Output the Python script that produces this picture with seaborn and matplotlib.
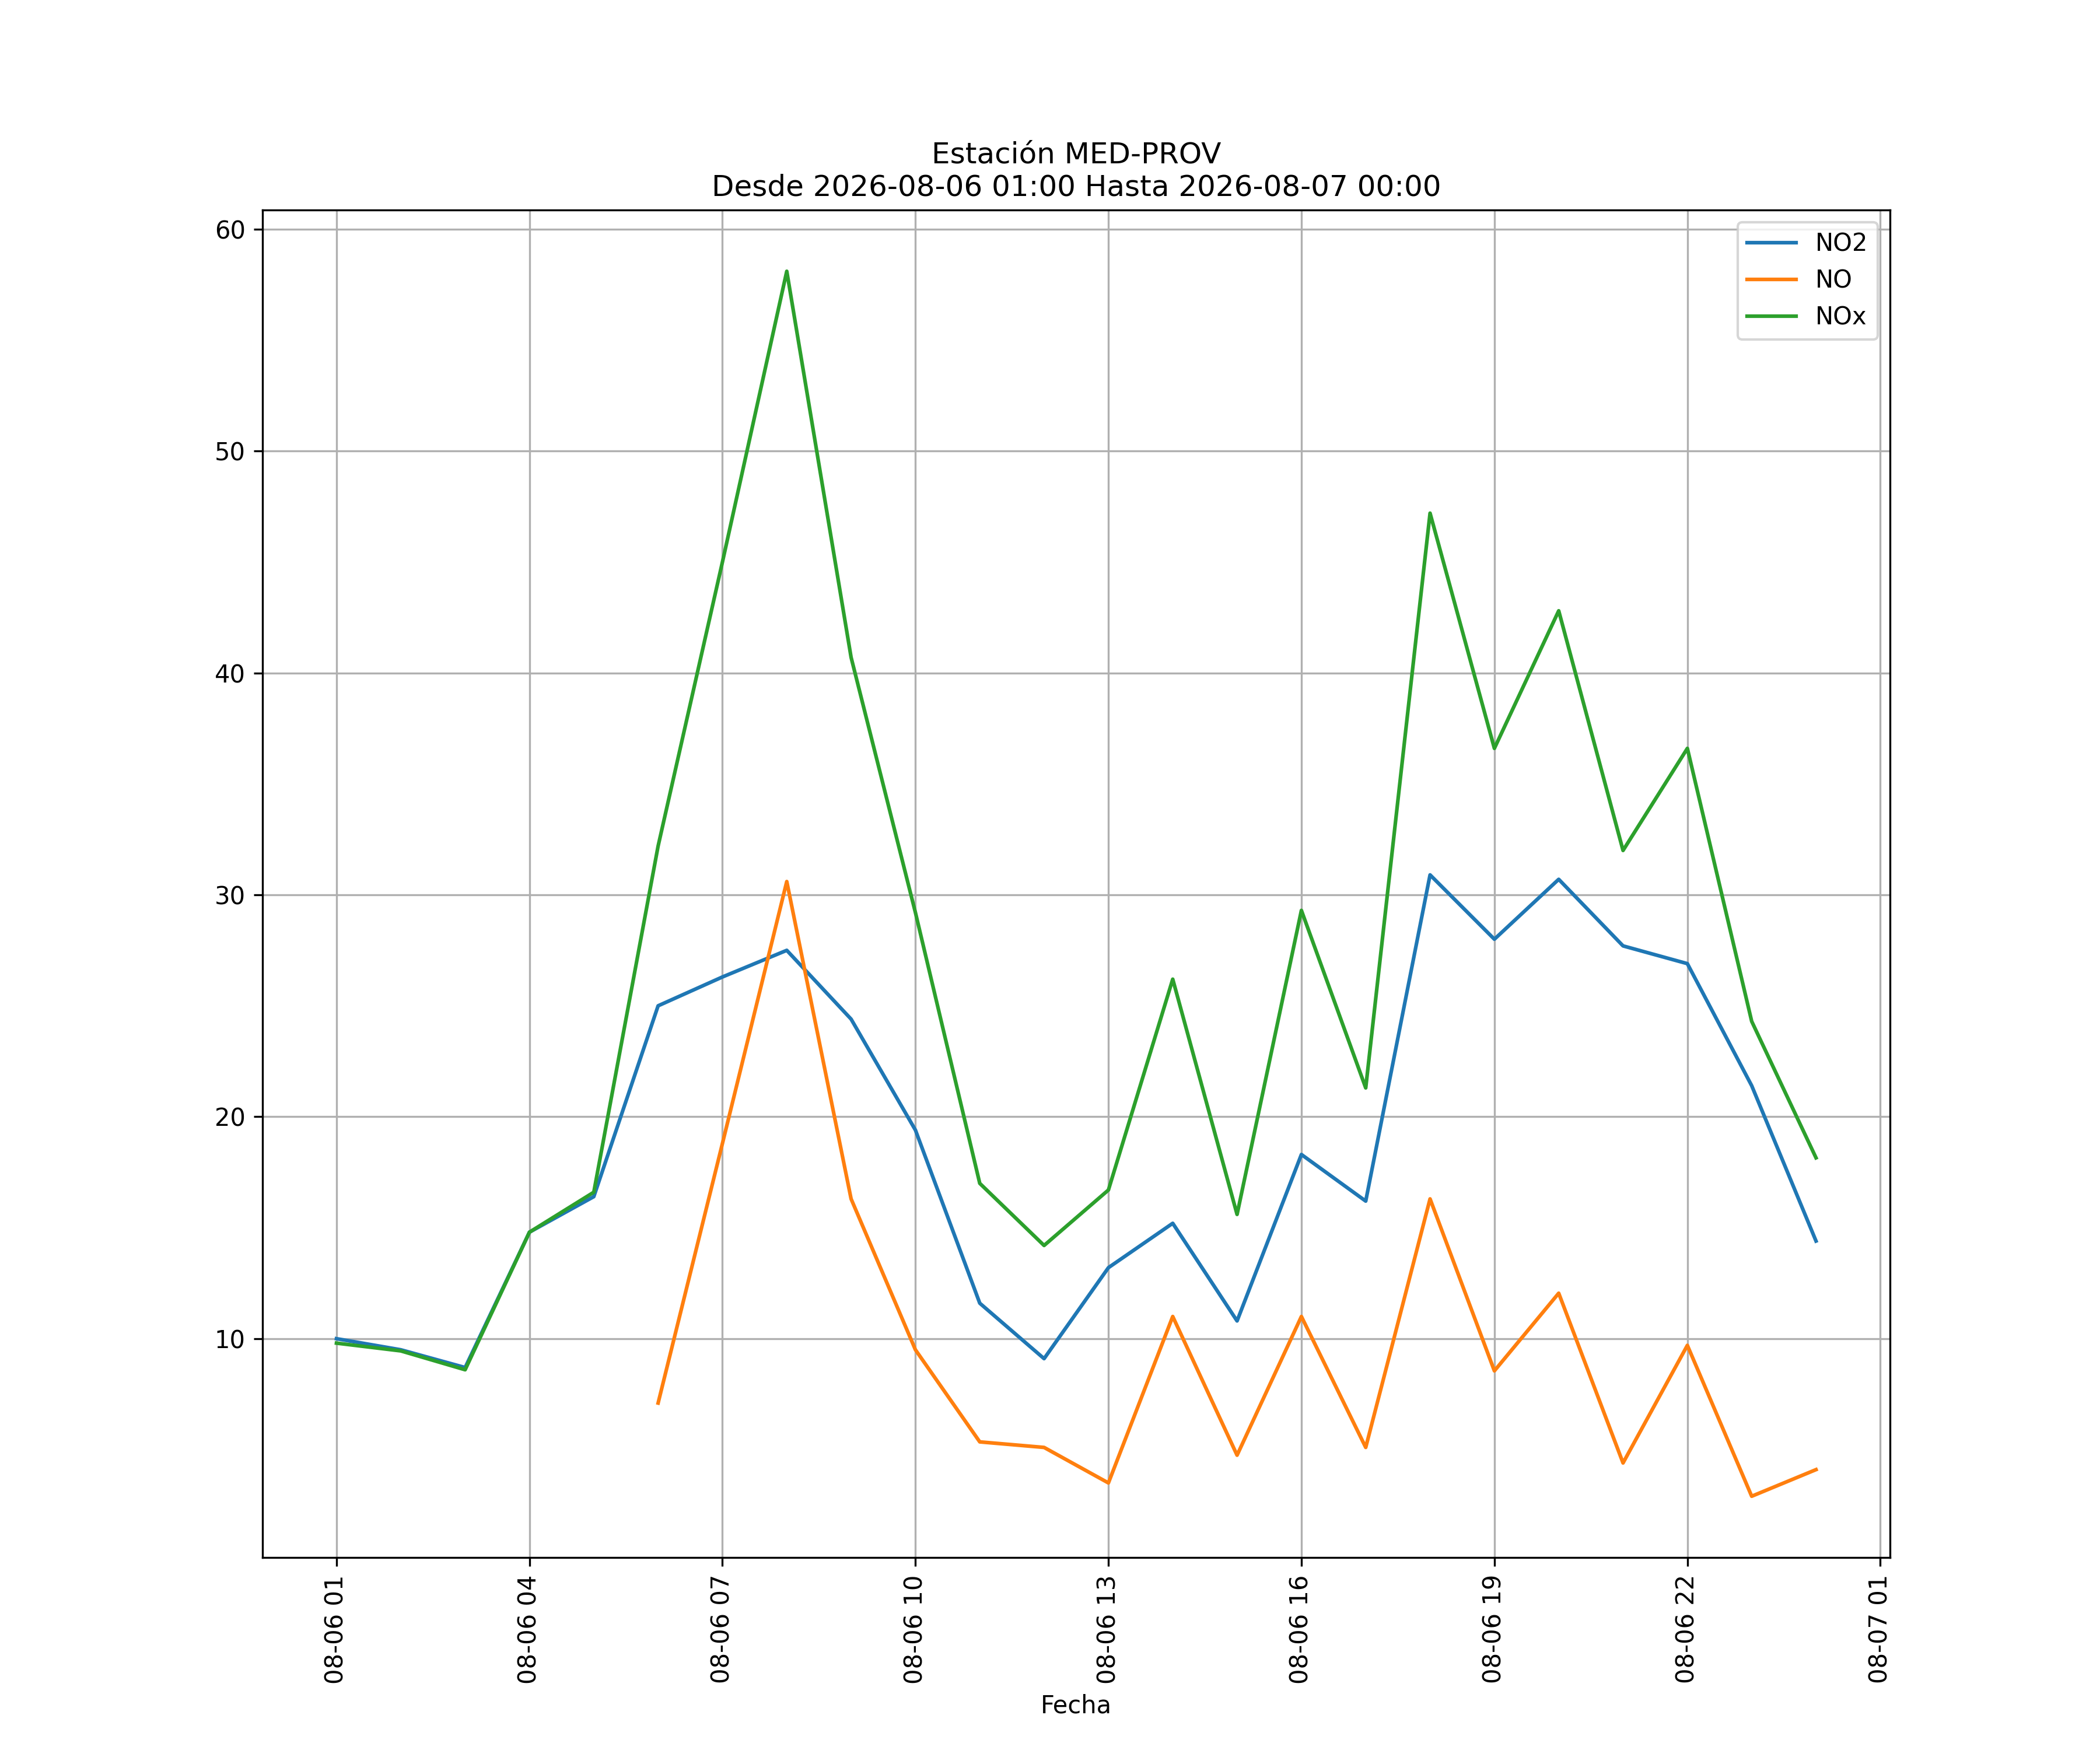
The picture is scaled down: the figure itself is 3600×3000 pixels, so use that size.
import matplotlib
matplotlib.use("Agg")
import matplotlib.pyplot as plt
import matplotlib.dates as mdates
import numpy as np
import pandas as pd
import seaborn as sns

hours = pd.date_range("2026-08-06 01:00", "2026-08-07 00:00", freq="h")

no2 = [10.0, 9.5, 8.7, 14.8, 16.4, 25.0, 26.3, 27.5, 24.4, 19.4, 11.6, 9.1,
       13.2, 15.2, 10.8, 18.3, 16.2, 30.9, 28.0, 30.7, 27.7, 26.9, 21.4, 14.4]
no = [np.nan, np.nan, np.nan, np.nan, np.nan, 7.1, 18.8, 30.6, 16.3, 9.5, 5.35, 5.1,
      3.5, 11.0, 4.75, 11.0, 5.1, 16.3, 8.55, 12.05, 4.4, 9.7, 2.9, 4.1]
nox = [9.8, 9.45, 8.6, 14.8, 16.6, 32.2, 45.0, 58.1, 40.7, 29.2, 17.0, 14.2,
       16.7, 26.2, 15.6, 29.3, 21.3, 47.2, 36.6, 42.8, 32.0, 36.6, 24.3, 18.15]

series_names = ["NO2", "NO", "NOx"]
series_values = [no2, no, nox]
colors = ["#1f77b4", "#ff7f0e", "#2ca02c"]

fig, ax = plt.subplots(figsize=(12, 10), dpi=300)
for name, vals, c in zip(series_names, series_values, colors):
    df = pd.DataFrame({"Fecha": hours, "valor": vals}).dropna()
    sns.lineplot(data=df, x="Fecha", y="valor", label=name, color=c, ax=ax, linewidth=1.5)

ax.xaxis.set_major_locator(mdates.HourLocator(byhour=range(1, 24, 3)))
ax.xaxis.set_major_formatter(mdates.DateFormatter("%m-%d %H"))
plt.setp(ax.get_xticklabels(), rotation=90)
ax.set_xlabel("Fecha")
ax.set_ylabel("")
ax.grid(True)
ax.legend(loc="upper right")
ax.set_title("Estación MED-PROV\nDesde 2026-08-06 01:00 Hasta 2026-08-07 00:00")
fig.savefig("out.png", dpi=300)
